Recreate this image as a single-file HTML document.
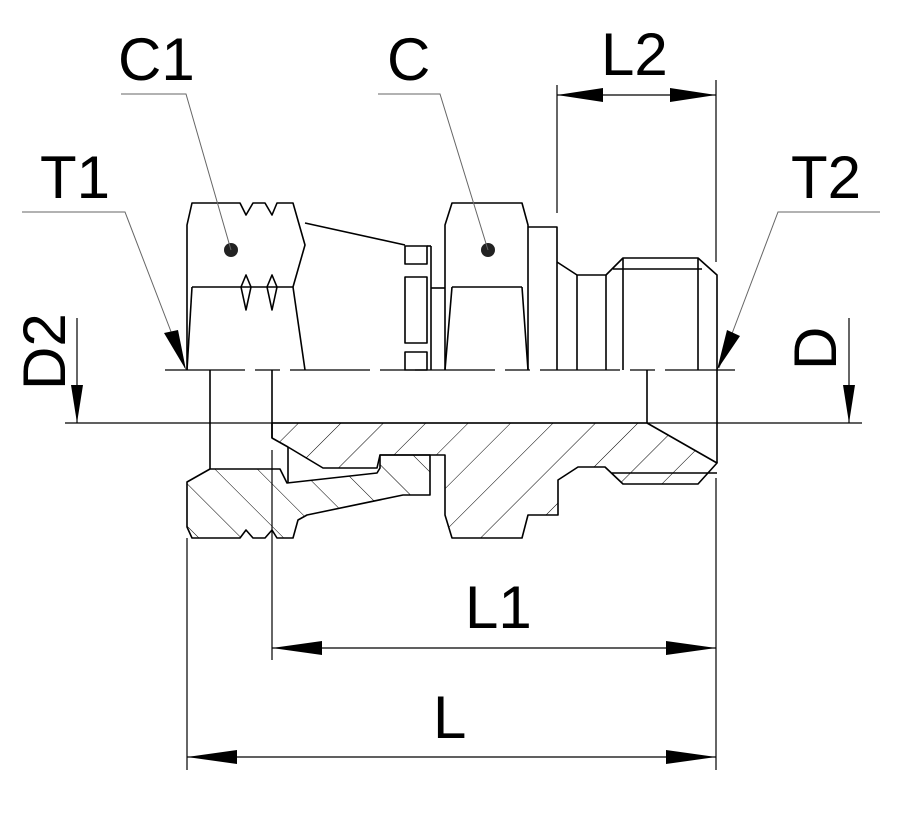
<!DOCTYPE html>
<html><head><meta charset="utf-8"><style>
html,body{margin:0;padding:0;background:#fff;}
svg{display:block;}
text{font-family:"Liberation Sans",sans-serif;fill:#000;}
</style></head><body>
<svg width="904" height="814" viewBox="0 0 904 814" xmlns="http://www.w3.org/2000/svg">
<defs>
<pattern id="hb" patternUnits="userSpaceOnUse" width="30" height="30" patternTransform="rotate(45)">
<line x1="0" y1="0" x2="0" y2="30" stroke="#000" stroke-width="1"/></pattern>
<pattern id="hf" patternUnits="userSpaceOnUse" width="30" height="30" patternTransform="rotate(-45)">
<line x1="0" y1="0" x2="0" y2="30" stroke="#000" stroke-width="1"/></pattern>
</defs>
<g fill="none" stroke="#000" stroke-width="1.6" stroke-linejoin="round">
<polygon fill="url(#hb)" points="272,423 647,423 717,463 698,484 623,484 605,467 578,467 558,480 558,515 528,515 522,538 452,538 445,515 445,455 380,455 377,468 323,468 288,447 272,438"/>
<polygon fill="url(#hf)" points="187,482 210,469 280,469 287,483 377,473 380,468 380,455 430,455 430,495 403,495 307,515 298,520 293,538 277,538 272,530 265,538 253,538 246,530 240,538 192,538 187,527"/>
<line x1="612" y1="473" x2="717" y2="473"/>
<line x1="288" y1="447" x2="288" y2="483"/>
<path d="M187,370 L187,225 L192,203 L240,203 L246,215 L253,203 L265,203 L272,215 L277,203 L293,203 L305,245 L293,287 L305,370"/>
<path d="M192,287 L187,370"/>
<line x1="192" y1="287" x2="293" y2="287"/>
<path d="M246,275 L241,287 L246,310 L251,287 Z"/>
<path d="M272,275 L267,287 L272,310 L277,287 Z"/>
<line x1="210" y1="370" x2="210" y2="469"/>
<line x1="272" y1="370" x2="272" y2="438"/>
<line x1="305" y1="223" x2="405" y2="245"/>
<rect x="405" y="246" width="22" height="18"/>
<rect x="405" y="277" width="22" height="66"/>
<rect x="405" y="352" width="22" height="18"/>
<line x1="431" y1="246" x2="431" y2="370"/>
<line x1="427" y1="246" x2="431" y2="246"/>
<line x1="431" y1="288" x2="445" y2="288"/>
<path d="M445,370 L445,225 L452,203 L522,203 L528,225 L528,370"/>
<path d="M452,287 L445,370 M522,287 L528,370"/>
<line x1="452" y1="287" x2="522" y2="287"/>
<path d="M528,227 L557,227 L557,370"/>
<path d="M557,262 L577,275 L606,275 L623,258 L698,258 L717,275 L717,370"/>
<line x1="577" y1="275" x2="577" y2="370"/>
<line x1="606" y1="275" x2="606" y2="370"/>
<line x1="623" y1="258" x2="623" y2="370"/>
<line x1="698" y1="258" x2="698" y2="370"/>
<line x1="613" y1="269" x2="702" y2="269"/>
<path d="M647,370 L647,423"/>
<line x1="717" y1="370" x2="717" y2="463"/>
</g>
<circle cx="231" cy="250" r="7" fill="#222"/>
<circle cx="488" cy="250" r="7" fill="#222"/>
<g stroke="#000" stroke-width="1.2" fill="none">
<line x1="165" y1="370" x2="735" y2="370" stroke-dasharray="80,10,25,10"/>
<line x1="65" y1="423" x2="862" y2="423"/>
<line x1="557" y1="85" x2="557" y2="213"/>
<line x1="716" y1="80" x2="716" y2="262"/>
<line x1="187" y1="538" x2="187" y2="770"/>
<line x1="272" y1="450" x2="272" y2="660"/>
<line x1="716" y1="478" x2="716" y2="770"/>
<line x1="557" y1="95" x2="716" y2="95"/>
<line x1="272" y1="648" x2="716" y2="648"/>
<line x1="187" y1="757" x2="716" y2="757"/>
<line x1="77" y1="318" x2="77" y2="423"/>
<line x1="849" y1="318" x2="849" y2="423"/>
</g>
<g stroke="#666" stroke-width="1" fill="none">
<polyline points="121,94 186,94 231,250"/>
<polyline points="378,94 440,94 488,250"/>
<polyline points="22,212 125,212 185,368"/>
<polyline points="880,212 778,212 719,368"/>
</g>
<g fill="#000">
<polygon points="557,95 603,88 603,102"/>
<polygon points="716,95 670,88 670,102"/>
<polygon points="272,648 322,641 322,655"/>
<polygon points="716,648 666,641 666,655"/>
<polygon points="187,757 237,750 237,764"/>
<polygon points="716,757 666,750 666,764"/>
<polygon points="77,423 71,385 83,385"/>
<polygon points="849,423 843,385 855,385"/>
<polygon points="186,370 164,333 178,330"/>
<polygon points="717,370 727,330 740,336"/>
</g>
<g font-size="60">
<text x="118" y="80">C1</text>
<text x="387" y="80">C</text>
<text x="601" y="75">L2</text>
<text x="40" y="198">T1</text>
<text x="791" y="198">T2</text>
<text x="465" y="628">L1</text>
<text x="433" y="738">L</text>
<text transform="translate(65,390) rotate(-90)">D2</text>
<text transform="translate(836,370) rotate(-90)">D</text>
</g>
</svg>
</body></html>
